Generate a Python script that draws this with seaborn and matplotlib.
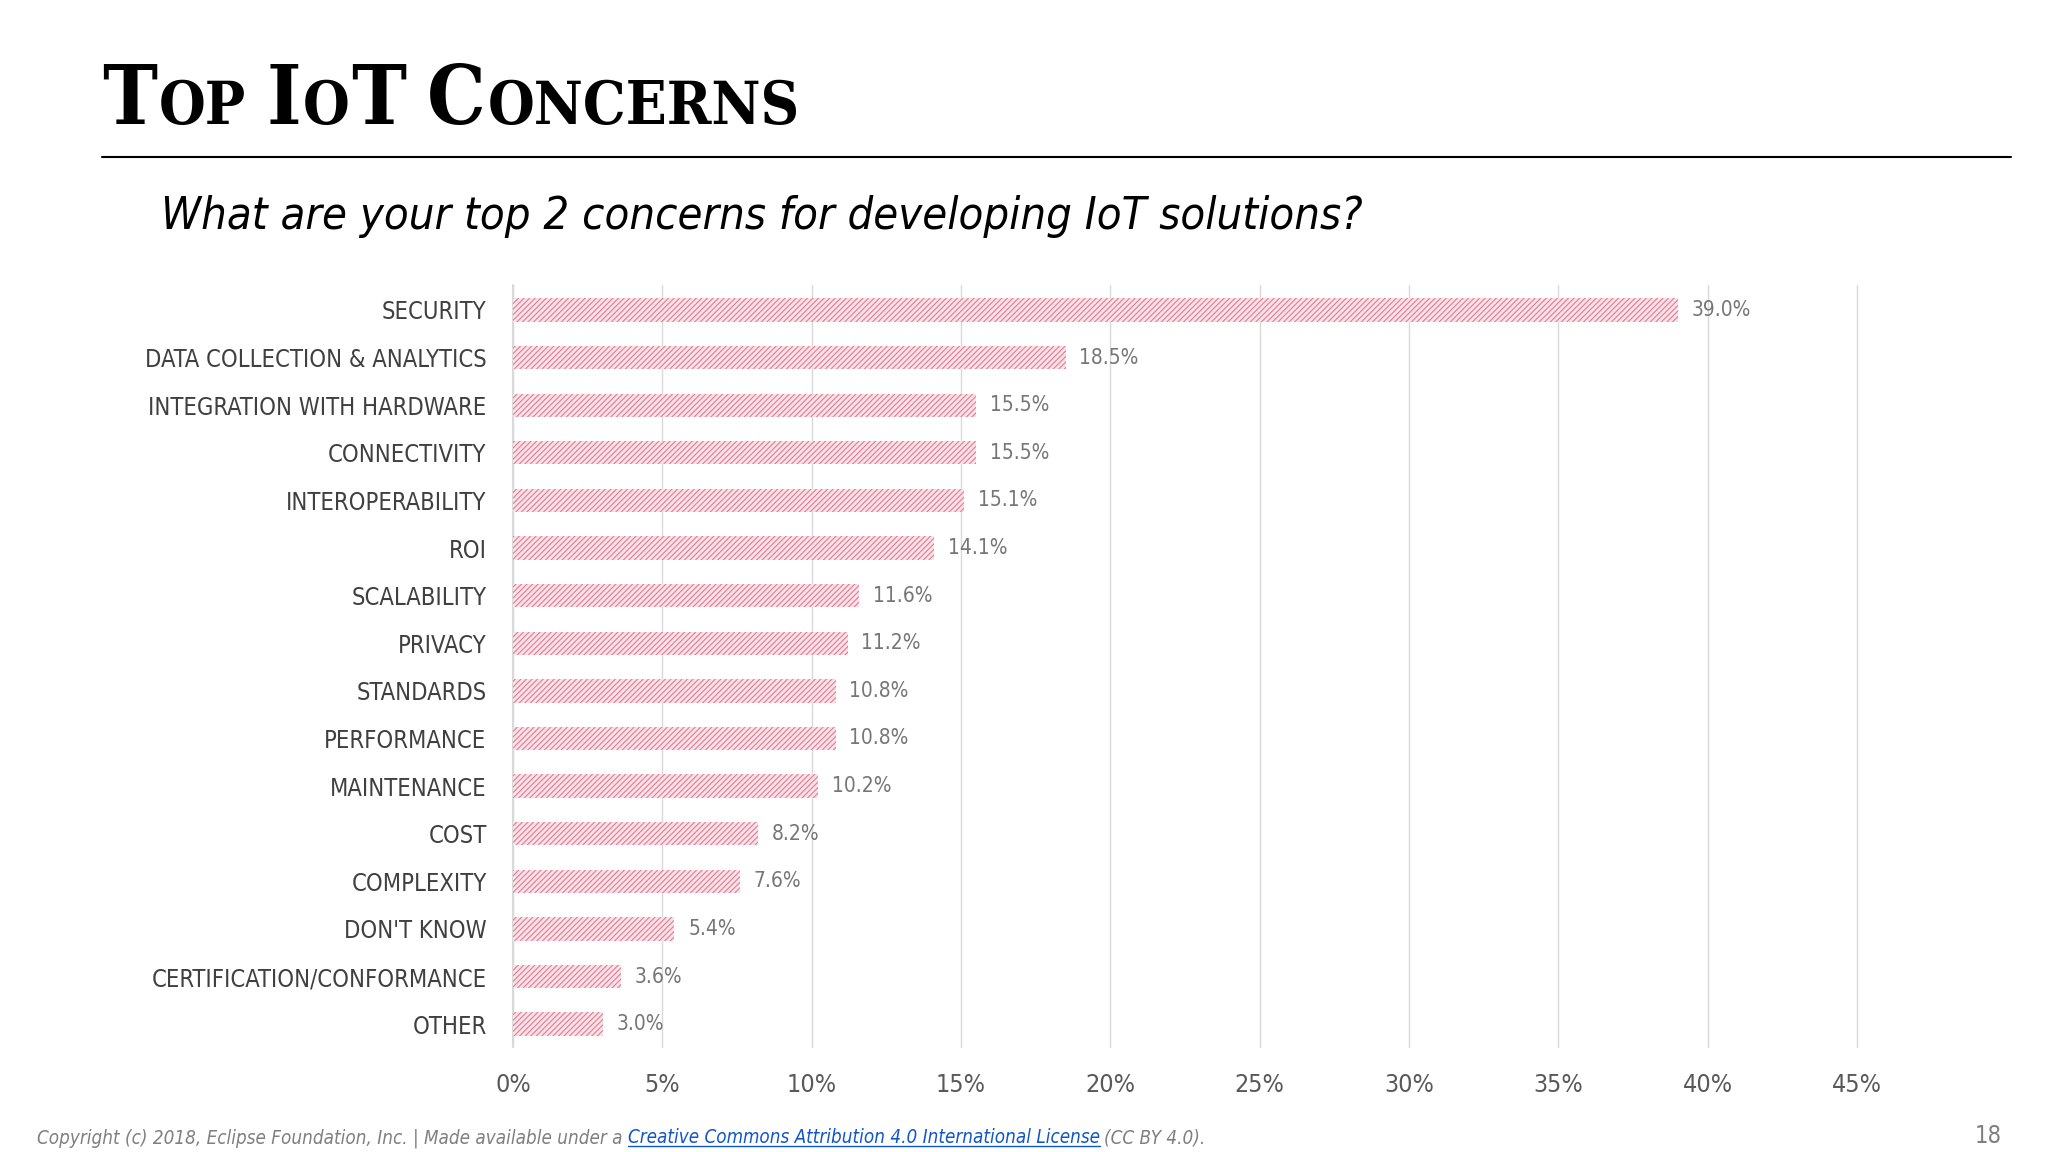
import matplotlib
matplotlib.use('Agg')
import numpy as np
import pandas as pd
import matplotlib.pyplot as plt
import matplotlib.transforms as mtransforms
from matplotlib.lines import Line2D
from matplotlib import font_manager as fm
import seaborn as sns

# -------------------------
# Datos
# -------------------------
categorias = ['SECURITY', 'DATA COLLECTION & ANALYTICS', 'INTEGRATION WITH HARDWARE',
              'CONNECTIVITY', 'INTEROPERABILITY', 'ROI', 'SCALABILITY', 'PRIVACY',
              'STANDARDS', 'PERFORMANCE', 'MAINTENANCE', 'COST', 'COMPLEXITY',
              "DON'T KNOW", 'CERTIFICATION/CONFORMANCE', 'OTHER']
valores = [39.0, 18.5, 15.5, 15.5, 15.1, 14.1, 11.6, 11.2, 10.8, 10.8, 10.2,
           8.2, 7.6, 5.4, 3.6, 3.0]
ticks_x = [0, 5, 10, 15, 20, 25, 30, 35, 40, 45]
etiquetas_x = ['0%', '5%', '10%', '15%', '20%', '25%', '30%', '35%', '40%', '45%']
etiquetas_valor = ['39.0%', '18.5%', '15.5%', '15.5%', '15.1%', '14.1%', '11.6%', '11.2%',
                   '10.8%', '10.8%', '10.2%', '8.2%', '7.6%', '5.4%', '3.6%', '3.0%']

# -------------------------
# Fuentes
# -------------------------
nombres = {f.name for f in fm.fontManager.ttflist}
NARROW = 'Liberation Sans Narrow' if 'Liberation Sans Narrow' in nombres else 'DejaVu Sans'
SERIF = 'DejaVu Serif'

sns.set_theme(style='white')
plt.rcParams['font.family'] = [NARROW, 'DejaVu Sans']
plt.rcParams['font.stretch'] = 'condensed'
plt.rcParams['hatch.linewidth'] = 0.8

W, H = 2048, 1152
fig = plt.figure(figsize=(W / 100, H / 100), dpi=100)
fig.patch.set_facecolor('white')

# -------------------------
# Barras
# -------------------------
ax = fig.add_axes([513 / W, 1 - 1047 / H, (1857 - 513) / W, (1047 - 285) / H])
df = pd.DataFrame({'categoria': categorias, 'valor': valores})
sns.barplot(data=df, x='valor', y='categoria', orient='h', color='#f6cdd6',
            saturation=1, width=0.49, ax=ax, zorder=3)
for p in ax.patches:
    p.set_facecolor('#fbe2e8')
    p.set_edgecolor('#e07b93')
    p.set_hatch('//////')
    p.set_linewidth(0)

ax.bar_label(ax.containers[0], labels=etiquetas_valor, padding=10,
             fontsize=15, color='#767676')

ax.set_xlim(0, 45)
ax.set_ylim(15.48, -0.525)
ax.set_xticks(ticks_x)
ax.set_xticklabels(etiquetas_x)
ax.xaxis.grid(True, color='#d9d9d9', lw=1.0)
ax.yaxis.grid(False)
for gl in ax.get_xgridlines():
    gl.set_clip_on(False)
ax.set_axisbelow(True)
ax.axvline(0, color='#d9d9d9', lw=1.5, clip_on=False, zorder=1)
for s in ax.spines.values():
    s.set_visible(False)
ax.tick_params(axis='x', length=0, pad=19, labelsize=18, labelcolor='#595959')
ax.tick_params(axis='y', length=0, pad=19, labelsize=17, labelcolor='#404040')
ax.set_xlabel('')
ax.set_ylabel('')

# -------------------------
# Textos
# -------------------------
renderer = fig.canvas.get_renderer()
ident = mtransforms.IdentityTransform()


def cadena(piezas, x, y):
    """Coloca trozos de texto uno tras otro sobre la misma linea base (pixeles)."""
    textos = []
    for texto, kw, gap in piezas:
        t = fig.text(x, y, texto, transform=ident, va='baseline', ha='left', **kw)
        x += t.get_window_extent(renderer).width + gap
        textos.append(t)
    return textos


grande = dict(family=SERIF, weight='bold', size=59, color='black')
chica = dict(family=SERIF, weight='bold', size=43, color='black')
cadena([('T', grande, 2), ('OP', chica, 20), ('I', grande, 2), ('O', chica, 2),
        ('T', grande, 20), ('C', grande, 2), ('ONCERNS', chica, 0)], 102, H - 124)

fig.add_artist(Line2D([102 / W, 2011 / W], [1 - 157 / H, 1 - 157 / H],
                      transform=fig.transFigure, color='black', lw=1.5))

fig.text(161 / W, 1 - 229 / H, 'What are your top 2 concerns for developing IoT solutions?',
         style='italic', size=32.5, color='black', va='baseline')

gris = dict(style='italic', size=13.5, color='#7f7f7f')
azul = dict(style='italic', size=13.5, color='#1155cc')
pie = cadena([('Copyright (c) 2018, Eclipse Foundation, Inc. | Made available under a', gris, 5),
              ('Creative Commons Attribution 4.0 International License', azul, 5),
              ('(CC BY 4.0).', gris, 0)], 37, 9)
bb = pie[1].get_window_extent(renderer)
fig.add_artist(Line2D([bb.x0, bb.x1], [6, 6], transform=ident, color='#1155cc', lw=1))

fig.text(2002 / W, 9 / H, '18', ha='right', va='baseline', size=17, color='#7f7f7f')

fig.savefig('out.png', dpi=100, facecolor='white')
